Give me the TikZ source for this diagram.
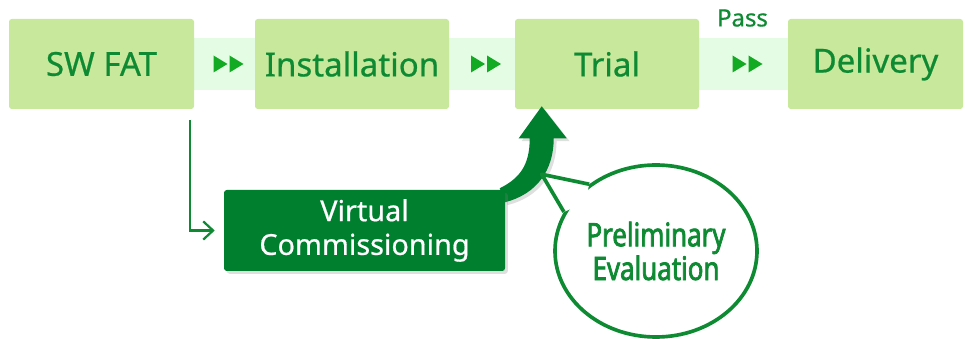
\documentclass[tikz,border=0pt]{standalone}
\usepackage{fontspec}
\setmainfont[FakeBold=0.6]{Noto Sans}
\newfontfamily\narrowfont[FakeStretch=0.8, FakeBold=2.2]{Noto Sans}
\usepackage{tikz}
\usetikzlibrary{positioning,arrows.meta,shapes,calc,shadows,backgrounds}
\definecolor{palStep}{HTML}{C8E89B}
\definecolor{palText}{HTML}{0E8A33}
\definecolor{palDark}{HTML}{007F2F}
\definecolor{palBand}{HTML}{E4FBE4}
\definecolor{palTri}{HTML}{12AA22}
\def\px{0.025cm}
\tikzset{
  stepbox/.style={rectangle, rounded corners=2pt, fill=palStep, text=palText,
                  minimum height=90*\px, inner sep=0pt,
                  font=\fontsize{23.5}{28}\selectfont},
  bandfill/.style={fill=palBand},
  fftri/.style={fill=palTri},
  passlbl/.style={text=palText, inner sep=0pt, font=\fontsize{17}{20}\selectfont},
}

\begin{document}
\begin{tikzpicture}[x=\px, y=-\px,
  vcbox/.style={rectangle, rounded corners=2pt, fill=palDark, text=white, align=center,
                minimum width=281*\px, minimum height=81*\px, inner sep=0pt,
                font=\fontsize{20.5}{24}\selectfont,
                drop shadow={shadow xshift=2pt, shadow yshift=-2pt, opacity=0.25}},
  bubble/.style={ellipse, draw=palText, line width=2.6pt, fill=white, align=center,
                 minimum width=202*\px, minimum height=172*\px, inner sep=0pt,
                 text=palText, font=\narrowfont\fontsize{23}{21.3}\selectfont},
  bubline/.style={draw=palText, line width=2.6pt, line join=round},
  fatarrow/.style={fill=palDark,
                   drop shadow={shadow xshift=2pt, shadow yshift=-2pt, opacity=0.25}},
  elbowarrow/.style={draw=palText, line width=1.6pt,
                     -{Straight Barb[length=7pt, width=13pt]}, shorten >=9*\px},
]
\useasboundingbox (0,0) rectangle (966,339);

%% Process Row
\foreach \nm/\xc/\bw/\lbl in {sw/101.5/185/SW FAT, inst/352/194/Installation,
                              trial/607/184/Trial, deliv/875.5/175/Delivery} {
  \node[stepbox, minimum width=\bw*\px] (\nm) at (\xc,64) {\lbl};
}

%% Bands between steps
\begin{scope}[on background layer]
  \foreach \a/\b in {sw/inst, inst/trial, trial/deliv} {
    \fill[bandfill] ($(\a.east)+(0,-26)$) rectangle ($(\b.west)+(0,26)$);
    \coordinate (ff-\a) at ($(\a.east)!0.5!(\b.west)+(4,0)$);
  }
\end{scope}
\foreach \a in {sw, inst, trial} {
  \foreach \dx in {-15,1} {
    \fill[fftri] ($(ff-\a)+(\dx,-8.5)$) -- ++(14,8.5) -- ++(-14,8.5) -- cycle;
  }
}
\node[passlbl] (pass) at ($(ff-trial)+(-5,-46)$) {Pass};

%% Virtual commissioning branch
\coordinate (fa-tip) at ($(trial.south west)+(27,-3)$);
\begin{scope}[shift={(fa-tip)}]
  \fill[fatarrow] (0,0) -- (25,32) -- (12,32)
    .. controls (12,64) and (-5,88) .. (-37,96)
    -- (-42,82)
    .. controls (-22,72) and (-12,59) .. (-12,32)
    -- (-23,32) -- cycle;
  \coordinate (bubtip) at (0,68);
\end{scope}
\node[vcbox] (vc) at (364.5,230.5) {Virtual\\Commissioning};
\draw[elbowarrow] ($(sw.south east)+(-4,11)$) |- (vc.west);

%% Speech bubble
\node[bubble] (prelim) at (656,251) {Preliminary\\Evaluation};
\fill[white] (prelim.135) -- (bubtip) -- (prelim.157)
  -- ($(prelim.146)!0.12!(prelim.center)$) -- cycle;
\draw[bubline] (prelim.135) -- (bubtip) -- (prelim.157);
\end{tikzpicture}
\end{document}
